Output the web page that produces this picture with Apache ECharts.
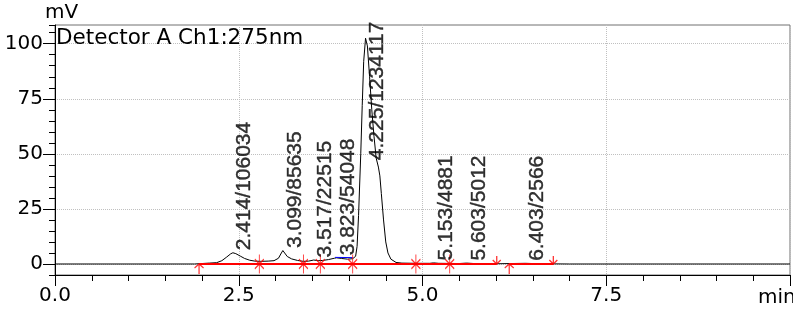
<!DOCTYPE html>
<html><head><meta charset="utf-8">
<script src="https://cdn.jsdelivr.net/npm/echarts@6/dist/echarts.min.js"></script>
<style>html,body{margin:0;padding:0;background:#fff}#c{width:793px;height:320px}</style>
</head><body><div id="c"></div>
<script>
// chromatogram trace (time in min, signal in mV)
const timeMin = [0.0, 1.9, 2.0, 2.1, 2.2, 2.27, 2.33, 2.39, 2.42, 2.46, 2.52, 2.58, 2.65, 2.72, 2.80, 2.90, 2.98, 3.04, 3.08, 3.10, 3.12, 3.16, 3.22, 3.30, 3.38, 3.45, 3.52, 3.58, 3.64, 3.72, 3.80, 3.83, 3.90, 3.98, 4.05, 4.09, 4.11, 4.13, 4.16, 4.18, 4.20, 4.225, 4.25, 4.28, 4.31, 4.34, 4.37, 4.40, 4.42, 4.44, 4.47, 4.50, 4.53, 4.57, 4.64, 4.72, 4.90, 5.10, 5.15, 5.22, 5.50, 5.60, 5.70, 6.00, 6.40, 6.60, 7.0, 10.0];
const signalMv = [0.0, 0.0, 0.2, 0.4, 0.6, 1.5, 3.0, 4.6, 5.1, 4.7, 3.6, 2.5, 1.7, 1.3, 1.2, 1.3, 1.5, 2.6, 5.0, 6.1, 5.3, 3.4, 2.3, 1.6, 1.2, 1.3, 1.8, 1.5, 1.6, 2.0, 2.6, 2.8, 2.5, 2.2, 2.4, 3.5, 8, 22, 50, 72, 92, 102.5, 99, 85, 70, 58, 48, 44, 40, 32, 20, 10, 5, 2.2, 0.7, 0.4, 0.3, 0.3, 0.5, 0.3, 0.2, 0.4, 0.2, 0.1, 0.3, 0.1, 0.0, 0.0];

// integration results
const peakTimes = [2.414, 3.099, 3.517, 3.823, 4.225, 5.153, 5.603, 6.403];
const peakAreas = [106034, 85635, 22515, 54048, 1234117, 4881, 5012, 2566];
const peakHeights = [5.1, 6.1, 1.8, 2.8, 102.5, 0.5, 0.4, 0.3];

// baseline marks (min)
const startMarks = [1.96, 6.18];
const dropMarks = [2.78, 3.38, 3.61, 4.05, 4.91, 5.37];
const endMarks = [6.01, 6.78];
const baselineStarts = [1.96, 6.18];
const baselineEnds = [6.01, 6.78];
const blueTimes = [3.81, 4.05];
const blueLevels = [3.0, 2.9];

const xTickLabels = ['0.0', '2.5', '5.0', '7.5'];

const chart = echarts.init(document.getElementById('c'), null, {renderer: 'canvas'});

const curve = timeMin.map((t, i) => [t, signalMv[i]]);
const baseSeries = baselineStarts.map((s, i) => ({
  type: 'line', xAxisIndex: 0, yAxisIndex: 0, z: 4, silent: true,
  data: [[s, 0], [baselineEnds[i], 0]], showSymbol: false,
  lineStyle: {color: '#ff0000', width: 2}
}));

const markStyle = {color: 'none', borderColor: '#ff0000', borderWidth: 1.3};
const LABEL_FONT = 'Liberation Sans, Arial, sans-serif';
const AXIS_FONT = 'DejaVu Sans, sans-serif';

chart.setOption({
  animation: false,
  grid: [
    {left: 55, right: 2, top: 25, bottom: 45, show: true, borderColor: '#707070', borderWidth: 1},
    {left: 55, right: 2, top: 43.74, bottom: 56.013}
  ],
  xAxis: [
    {
      gridIndex: 0, type: 'value', min: 0, max: 10, interval: 2.5,
      axisLine: {show: true, onZero: false, lineStyle: {color: '#000', width: 1}},
      axisTick: {show: true, length: 11, lineStyle: {color: '#000'}},
      minorTick: {show: true, splitNumber: 5, length: 6, lineStyle: {color: '#000'}},
      splitLine: {show: true, lineStyle: {color: '#c0c0c0', type: 'dotted', width: 1}},
      axisLabel: {
        fontFamily: AXIS_FONT, fontSize: 20, color: '#000', margin: 11,
        formatter: v => { const i = Math.round(v / 2.5); return (Math.abs(v - i * 2.5) < 1e-6 && i < xTickLabels.length) ? xTickLabels[i] : ''; }
      }
    },
    {gridIndex: 1, type: 'value', min: 0, max: 10, show: false}
  ],
  yAxis: [
    {
      gridIndex: 0, type: 'value', min: -5, max: 108.5, interval: 5,
      axisLine: {show: true, onZero: false, lineStyle: {color: '#000', width: 1}},
      axisTick: {show: true, length: 6, lineStyle: {color: '#000'}},
      axisLabel: {show: false},
      splitLine: {show: false}
    },
    {
      gridIndex: 1, type: 'value', min: 0, max: 100, interval: 25,
      axisLine: {show: false},
      axisTick: {show: true, length: 12, lineStyle: {color: '#000'}},
      axisLabel: {fontFamily: AXIS_FONT, fontSize: 20, color: '#000', margin: 12},
      splitLine: {show: true, lineStyle: {color: '#c0c0c0', type: 'dotted', width: 1}}
    }
  ],
  graphic: [
    {type: 'text', left: 56, top: 27, z: 10, style: {text: 'Detector A Ch1:275nm', font: '21.5px DejaVu Sans', fill: '#000'}},
    {type: 'text', left: 45, top: 3, z: 10, style: {text: 'mV', font: '20px DejaVu Sans', fill: '#000'}},
    {type: 'text', left: 758, top: 288, z: 10, style: {text: 'min', font: '20px DejaVu Sans', fill: '#000'}}
  ],
  series: [
    {
      type: 'line', xAxisIndex: 0, yAxisIndex: 0, z: 3, silent: true,
      data: curve, showSymbol: false,
      lineStyle: {color: '#000', width: 1}
    },
    ...baseSeries,
    {
      type: 'line', xAxisIndex: 0, yAxisIndex: 0, z: 4, silent: true,
      data: blueTimes.map((t, i) => [t, blueLevels[i]]), showSymbol: false,
      lineStyle: {color: '#0000ff', width: 1}
    },
    {
      type: 'scatter', xAxisIndex: 0, yAxisIndex: 0, z: 5, silent: true,
      data: dropMarks.map(t => [t, 0]),
      symbol: 'path://M5,0L5,20M0,5L10,15M0,15L10,5', symbolSize: [9, 19],
      itemStyle: markStyle
    },
    {
      type: 'scatter', xAxisIndex: 0, yAxisIndex: 0, z: 5, silent: true,
      data: startMarks.map(t => [t, 0]),
      symbol: 'path://M5,0L5,10M1,4L5,0L9,4', symbolSize: [9, 10], symbolOffset: [0, 5],
      itemStyle: markStyle
    },
    {
      type: 'scatter', xAxisIndex: 0, yAxisIndex: 0, z: 5, silent: true,
      data: endMarks.map(t => [t, 0]),
      symbol: 'path://M5,0L5,8M1,4L5,8L9,4', symbolSize: [8, 8], symbolOffset: [0, -4],
      itemStyle: markStyle
    },
    {
      type: 'scatter', xAxisIndex: 0, yAxisIndex: 0, z: 6, silent: true,
      data: peakTimes.map((t, i) => [t, Math.min(peakHeights[i], 46)]),
      symbol: 'circle', symbolSize: 1,
      itemStyle: {color: 'transparent'},
      label: {
        show: true, position: [2, -2], rotate: 90, align: 'left', verticalAlign: 'top',
        fontFamily: LABEL_FONT, fontSize: 21, color: '#000',
        textBorderColor: '#000', textBorderWidth: 0.4,
        formatter: p => peakTimes[p.dataIndex].toFixed(3) + '/' + peakAreas[p.dataIndex]
      }
    }
  ]
});
</script>
</body></html>
